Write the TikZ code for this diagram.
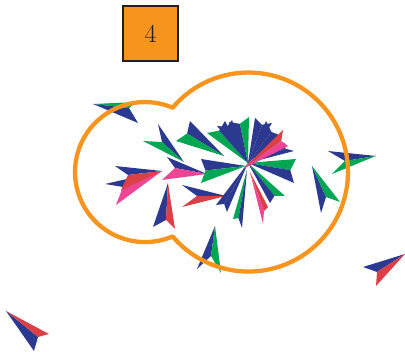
\documentclass[tikz,border=0pt]{standalone}
\usetikzlibrary{calc}
\definecolor{pblue}{HTML}{2B3990}
\definecolor{pgreen}{HTML}{00A651}
\definecolor{pred}{HTML}{DA4046}
\definecolor{ppink}{HTML}{EC4593}
\definecolor{porange}{HTML}{F7941D}
\definecolor{pdark}{HTML}{231F20}
% tip, notch, wing1, wing2, colour1, colour2
\newcommand\paperplane[6]{%
  \coordinate (pT) at #1; \coordinate (pN) at #2;
  \coordinate (pA) at #3; \coordinate (pB) at #4;
  \fill[#5] (pT) -- (pA) -- (pN) -- cycle;
  \fill[#6] (pT) -- (pB) -- (pN) -- cycle;}
% tip, wing1, wing2, colour1, colour2 (notch computed)
\newcommand\starplane[5]{%
  \coordinate (sT) at #1; \coordinate (sA) at #2; \coordinate (sB) at #3;
  \coordinate (sM) at ($(sA)!.5!(sB)$);
  \coordinate (sN) at ($(sM)!.1!(sT)$);
  \fill[#4] (sT) -- (sA) -- (sN) -- cycle;
  \fill[#5] (sT) -- (sB) -- (sN) -- cycle;}
\tikzset{outline/.style={draw=porange, line width=4.3pt, line join=round}}
\begin{document}
\begin{tikzpicture}[x=1pt,y=-1pt]
\useasboundingbox (0,0) rectangle (405,352);
% label box
\node[draw=pdark, fill=porange, line width=2pt, minimum size=55pt, inner sep=0pt,
      text=pdark, font=\fontsize{26}{26}\selectfont] (box) at (150.5,33.5) {4};
% isolated planes
\paperplane{(93,104)}{(129,108)}{(137,102)}{(138,123)}{pgreen}{pblue}
\paperplane{(184,162)}{(162,142)}{(158,124)}{(143,141)}{pblue}{pgreen}
\paperplane{(162,171)}{(123,187)}{(105,184)}{(116,205)}{pblue}{ppink}
\paperplane{(162,171)}{(128,175)}{(115,166)}{(121,190)}{pblue}{pred}
\paperplane{(168,183)}{(166,220)}{(153,227)}{(175,229)}{pblue}{pred}
\paperplane{(226,196)}{(197,196)}{(182,185)}{(182,207)}{pblue}{pred}
\paperplane{(376,156)}{(345,161)}{(328,151)}{(332,174)}{pblue}{pgreen}
\paperplane{(312,166)}{(326,197)}{(321,213)}{(340,202)}{pblue}{pgreen}
\paperplane{(215,226)}{(211,256)}{(197,269)}{(221,273)}{pblue}{pgreen}
\paperplane{(405,254)}{(377,272)}{(363,267)}{(376,286)}{pblue}{pred}
\paperplane{(6,311)}{(38,337)}{(34,351)}{(49,334)}{pblue}{pred}
% central star
\paperplane{(207,174)}{(175,168)}{(167,157)}{(162,180)}{pblue}{ppink}
\starplane{(224,156)}{(190,121)}{(176,141)}{pblue}{pgreen}
\starplane{(248,163)}{(217,126)}{(232,120)}{pblue}{pblue}
\starplane{(248,163)}{(207,133)}{(225,121)}{pgreen}{pblue}
\starplane{(248,163)}{(229,122)}{(249,117)}{pblue}{pgreen}
\starplane{(248,163)}{(266,121)}{(282,136)}{pblue}{pblue}
\starplane{(248,163)}{(255,118)}{(272,123)}{pblue}{pblue}
\starplane{(248,163)}{(285,143)}{(294,151)}{pblue}{pblue}
\starplane{(248,163)}{(296,159)}{(294,183)}{pgreen}{pblue}
\starplane{(248,163)}{(285,196)}{(270,203)}{pgreen}{pblue}
\starplane{(248,163)}{(216,205)}{(227,212)}{pblue}{pblue}
\starplane{(247,170)}{(233,219)}{(242,228)}{pgreen}{pblue}
\starplane{(250,172)}{(268,207)}{(263,224)}{pred}{ppink}
\starplane{(246,166)}{(201,159)}{(201,183)}{pblue}{pgreen}
\starplane{(243,169)}{(283,130)}{(288,146)}{pred}{ppink}
% outline of the two merged circles
\draw[outline] (172.6,107.7) arc[start angle=-139.7, end angle=139.7, radius=99.5]
  arc[start angle=66.8, end angle=293.2, radius=70] -- cycle;
\end{tikzpicture}
\end{document}
